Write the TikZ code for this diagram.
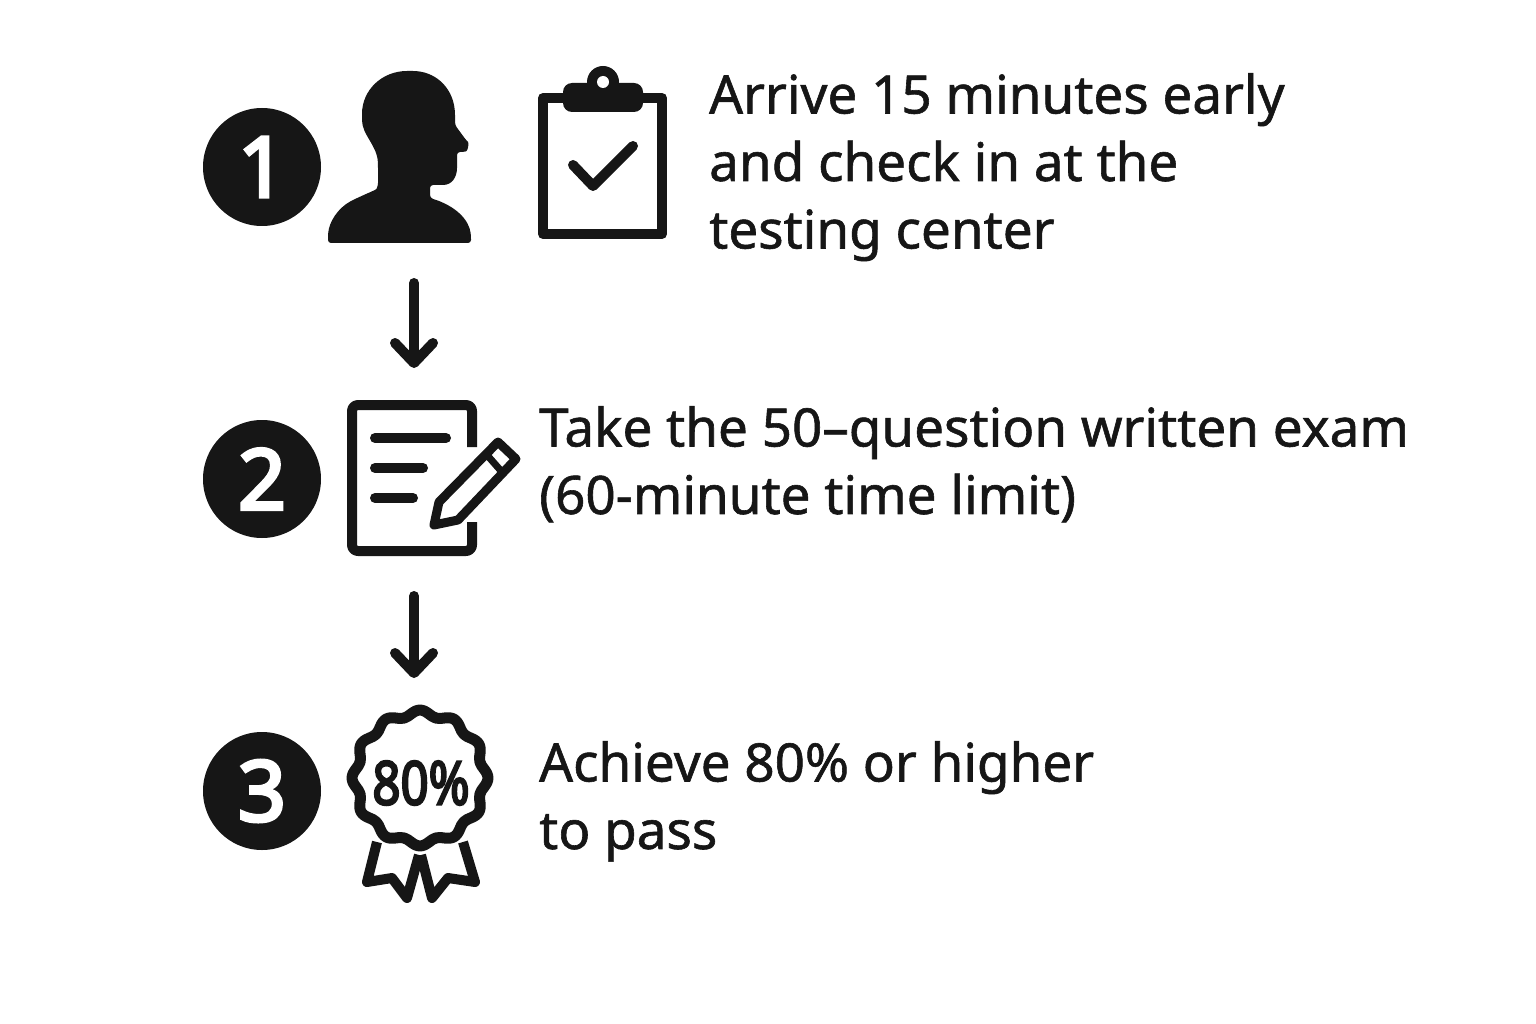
\documentclass[tikz,border=0pt]{standalone}
\usepackage{fontspec}
\setmainfont{Noto Sans}[RawFeature={embolden=1.1}]
\newfontfamily\badgefont{Noto Sans}[RawFeature={embolden=4}]
\usetikzlibrary{arrows.meta}
\definecolor{ink}{HTML}{161616}

\begin{document}
\begin{tikzpicture}[x=1pt,y=-1pt,
	stepnum/.style={circle,fill=ink,text=white,minimum size=118pt,inner sep=0pt,font=\badgefont\fontsize{84}{84}\selectfont},
	steptext/.style={anchor=north west,align=left,inner sep=0pt,text=ink,font=\fontsize{53}{67.5}\selectfont},
	icon/.style={draw=ink,line width=10pt,line join=round},
	flow/.style={draw=ink,line width=10pt,line cap=round,-{Straight Barb[length=20pt,width=38pt,line width=10pt,round]}}]
\useasboundingbox (0,0) rectangle (1536,1024);
\fill[white] (0,0) rectangle (1536,1024);

\node [stepnum] (one) at (262,167) {1};
\node [stepnum] (two) at (262,479) {2};
\node [stepnum] (three) at (262,791) {3};

\node [steptext] (arrive) at (709,73) {Arrive 15 minutes early\\and check in at the\\testing center};
\node [steptext] (take) at (539,406) {Take the 50–question written exam\\(60-minute time limit)};
\node [steptext] (achieve) at (539,741) {Achieve 80\% or higher\\to pass};

% person
\fill[ink,rounded corners=3pt] (328,243) -- (471,243) -- (471,236)
	.. controls (469,220) and (456,206) .. (430,198) -- (430,185) -- (440,185)
	.. controls (452,185) and (457,177) .. (457,165) -- (457,152) -- (463,152)
	.. controls (468,151) and (469,143) .. (466,140) -- (455,125) -- (455,112)
	.. controls (452,86) and (434,71) .. (410,71)
	.. controls (382,71) and (362,90) .. (362,117)
	.. controls (362,135) and (377,145) .. (378,165) -- (378,186)
	.. controls (376,190) and (370,192) .. (353,200)
	.. controls (338,208) and (329,222) .. (328,236) -- cycle;

% clipboard
\draw[icon] (543,98) rectangle (662,234);
\fill[ink,rounded corners=9pt] (563,83) rectangle (643,112);
\fill[ink] (603,82) circle (16);
\fill[white] (603,82) circle (6);
\draw[icon,line cap=round] (573,165) -- (593,186) -- (633,146);

% sheet and pencil
\draw[icon,rounded corners=6pt] (472,447) -- (472,405) -- (352,405) -- (352,551) -- (472,551) -- (472,522);
\draw[icon,line cap=round] (375,438) -- (446,438);
\draw[icon,line cap=round] (375,468) -- (423,468);
\draw[icon,line cap=round] (375,498) -- (413,498);
\draw[icon,line width=9pt] (434,525) -- (439,502) -- (498,442) -- (516,459) -- (458,520) -- cycle;
\draw[icon,line width=7pt] (487,455) -- (502,472);

% badge
\draw[icon,line width=11pt,shift={(420,778)}] plot[smooth cycle,samples=96,domain=0:356.25] (\x:{65+3*cos(12*\x)});
\draw[icon] (377,842) -- (367,882) -- (392,878) -- (407,898) -- (419,855);
\draw[icon] (463,842) -- (475,882) -- (448,878) -- (432,898) -- (421,855);
\node [inner sep=0pt,text=ink,xscale=.82,font=\badgefont\fontsize{60}{60}\selectfont] (pass) at (421,783) {80\%};

% arrows
\coordinate (afrom) at (414,283);
\coordinate (ato) at (414,368);
\coordinate (bfrom) at (414,596);
\coordinate (bto) at (414,678);
\draw[flow] (afrom) -- (ato);
\draw[flow] (bfrom) -- (bto);
\end{tikzpicture}
\end{document}
